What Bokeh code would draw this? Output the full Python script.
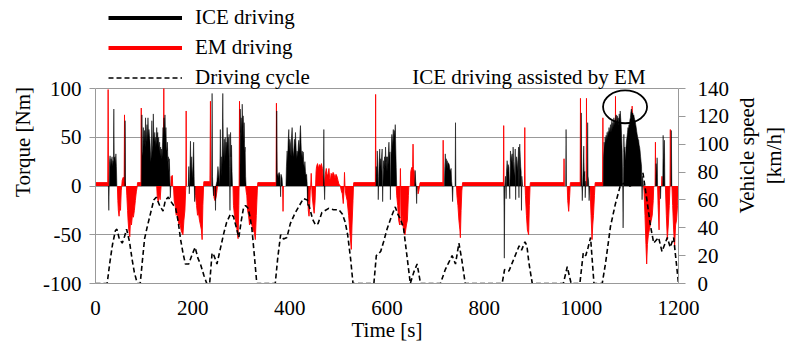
import math
from bokeh.plotting import figure
from bokeh.layouts import row
from bokeh.models import Range1d, LinearAxis, FixedTicker, Legend, LegendItem, Label
from bokeh.core.properties import value
from bokeh.embed import file_html
from bokeh.resources import INLINE

# ---------------- data ----------------
# Driving cycle: (time [s], vehicle speed [km/h])
cycle_points = [
    (0, 0), (24, 0), (29.5, 15), (35, 28), (41, 38), (44, 39), (49, 32), (55, 29), (60, 34), (64, 39),
    (70, 30), (75.5, 17), (80, 8), (86, 0), (92, 0), (97, 18), (101, 32), (106, 40), (113, 50), (120, 60),
    (125, 62), (132, 56), (139, 52), (144, 60), (150, 62), (155, 59), (165, 54), (170, 45), (175, 32),
    (180, 22), (185, 14), (192, 14), (198, 20), (205, 26), (211, 18), (216, 14), (223, 6), (229, 0),
    (235, 0), (240, 22), (244, 20), (250, 14), (257, 25), (264, 36), (270, 44), (278, 50), (284, 48),
    (290, 40), (295, 33), (300, 45), (305, 55), (309, 56), (314, 54), (318, 48), (322, 39), (327, 20),
    (332, 0), (370, 0), (375, 18), (381, 35), (387, 32), (394, 33), (401, 43), (410, 50), (418, 55),
    (428, 61), (436, 60), (441, 54), (447, 46), (453, 42), (458, 43), (466, 51), (480, 54), (490, 53),
    (501, 53), (508, 50), (514, 44), (519, 35), (525, 18), (530, 0), (573, 0), (578, 20), (587, 23),
    (593, 30), (600, 39), (609, 48), (617, 55), (622, 50), (628, 46), (634, 40), (641, 20), (648, 0),
    (655, 8), (662, 14), (669, 0), (710, 0), (720, 10), (727, 15), (734, 20), (741, 14), (748, 29),
    (754, 17), (761, 0), (837, 0), (842, 10), (851, 9), (858, 15), (865, 21), (872, 27), (877, 24),
    (884, 30), (888, 27), (892, 15), (899, 0), (963, 0), (971, 12), (979, 0), (997, 0), (1004, 22),
    (1009, 20), (1014, 26), (1019, 33), (1026, 0), (1043, 0), (1050, 15), (1060, 41), (1070, 57),
    (1080, 70), (1088, 72), (1095, 70), (1101, 70), (1110, 76), (1118, 81), (1124, 81), (1127, 79),
    (1135, 60), (1142, 42), (1149, 29), (1159, 33), (1166, 23), (1177, 33), (1183, 26), (1190, 33),
    (1200, 0),
]

# ICE torque: (time [s], torque [Nm])
ice_points = [
    (0, 0), (26.6, 0), (27.4, -25), (28.2, 0), (29, 25), (30, 31), (31, 19), (32, 28), (33, 22), (34, 30),
    (35, 20), (36, 26), (37, 24), (37.7, 79), (38.5, 28), (40, 30), (41, 22), (42, 33), (43, 20), (44, 0),
    (60.3, 0), (61, 67), (61.7, 0),
    (94.8, 0), (95.5, 73), (96.5, 35), (97.5, 31), (98.5, 60), (99.5, 45), (101, 57), (102, 40), (103, 70),
    (104, 45), (105, 53), (106, 63), (107, 45), (108, 70), (109, 50), (110, 58), (111, 52), (112, 47),
    (113, 36), (114, 25), (115, 36), (116, 67), (117, 42), (118, 35), (119, 74), (120, 50), (121, 45),
    (122, 55), (123, 40), (124, 50), (125, 42), (126, 60), (127, 48), (128, 55), (129, 40), (130, 50),
    (131, 35), (132, 45), (133, 30), (134, 40), (135, 28), (136, 38), (137, 30), (138, 45), (139, 60),
    (140, 50), (141, 70), (142, 55), (143, 73), (144, 50), (145, 60), (146, 40), (147, 36), (148, 45),
    (149, 25), (150, 30), (151, 15), (152, 28), (153, 8), (154, -12), (155, 0),
    (191, 0), (192, 20), (193, -8), (194, 10), (195.5, 46), (196.5, 12), (198, 30), (199, 8), (200.5, 20),
    (202, 45), (203, 10), (204, -16), (205, 0),
    (239.2, 0), (240, 95), (240.8, 10), (241.5, 0), (243, -10), (244, 0), (246.2, 0), (247, -25),
    (247.8, 0), (250, 5), (252, 20), (254, 10), (255, 0), (256, 20), (257, 58), (258, 15), (259, 30),
    (260, 10), (261, 40), (262, 95), (263, 45), (264, 30), (265, 48), (266, 25), (267, 50), (268, 30),
    (269, 45), (270, 35), (271, 60), (272, 40), (273, 50), (274, 30), (275, 53), (276, 20), (276.8, -25),
    (277.5, 20), (278, 55), (279, 30), (280, 42), (281, 15), (282, 0),
    (297.3, 0), (298, 79), (299, 55), (300, 70), (301, 50), (302, 84), (303, 60), (304, 72), (305, 45),
    (306, 65), (307, 35), (308, 40), (309, 10), (310, 0),
    (372.4, 0), (373.1, 77), (374, 10), (376, 13), (377, 8), (378, 14), (380, 10), (381, -11), (382, 12),
    (384, 8), (385, 0),
    (392, 0), (393, 20), (394.4, 36), (395.5, 25), (396.5, 45), (397.9, 58), (399, 35), (400, 48),
    (401.3, 43), (402.5, 30), (403.5, 50), (404.7, 60), (406, 40), (407, 30), (408.2, 36), (409.5, 48),
    (410.5, 40), (411.6, 55), (413, 38), (414, 28), (415, 36), (416.5, 30), (417.5, 42), (418.5, 47),
    (420, 35), (421, 55), (421.9, 62), (423, 45), (424, 30), (425.3, 36), (426.5, 28), (427.5, 35),
    (428.7, 23), (430, 18), (431, 25), (432.2, 15), (433.5, 10), (434.5, 12), (435.6, 3), (436.5, -20),
    (437.5, 0),
    (469.2, 0), (470, 58), (470.8, 0), (471.6, -14), (472.4, 0),
    (577.2, 0), (578, 20), (579, 10), (580, 36), (581, 20), (582, -14), (583, 10), (584, 25), (585, 38),
    (586, 20), (587, 28), (588, 15), (589, 30), (590, 38), (591, -16), (592, 10), (593, 26), (594, 18),
    (595, 30), (596, 20), (597, 40), (598, 25), (599, 30), (600, 15), (601, 30), (602, 20), (603, 35),
    (604, 45), (605, 28), (606, 35), (607, -14), (608, 30), (609, 40), (610, 53), (611, 40), (612, 50),
    (613, 58), (614, 45), (615, 57), (616, 50), (617, 63), (618, 40), (619, 19), (620, 0),
    (657, 0), (658, 16), (659, 5), (660, 0), (661, -18), (662, 0),
    (718, 0), (719, 20), (720, 33), (721, 15), (722, 28), (723, 20), (724, 26), (725, 18), (726, 24),
    (728, 22), (730, 15), (732, 18), (733, 5), (734, 0), (735, -16), (736, 0), (740.2, 0), (741, 65),
    (741.8, 0),
    (840.5, 0), (841.5, -74), (842.5, 0), (844, 10), (845.2, -13), (846, 15), (847.3, 26), (848.5, 15),
    (849.5, 22), (850.7, 19), (851.7, 5), (852.7, -13), (853.5, 15), (854.1, 36), (855.5, 25), (856.5, 30),
    (857.5, 33), (858.5, 20), (859.6, 40), (860.5, 25), (861.5, 15), (862.3, 10), (863.3, 25), (864, 38),
    (864.8, -14), (865.6, 20), (866.6, 30), (867.8, 26), (869, 15), (870, 30), (870.8, 40), (871.6, -12),
    (872.4, 35), (873.3, 43), (874.3, 30), (875.2, 20), (876.1, 15), (876.8, -25), (877.5, 10),
    (878.3, 5), (879, 0),
    (967.8, 0), (968.6, 58), (969.4, 0),
    (999.2, 0), (1000, 75), (1000.8, 5), (1002, -15), (1003, 5), (1004, 20), (1005, 41), (1006, 10),
    (1007, 15), (1008, -12), (1009, 5), (1010, 0), (1012.2, 0), (1013, 65), (1013.8, 10), (1015, 5),
    (1016, -15), (1017, 0),
    (1045.2, 0), (1045.8, 30), (1046.5, 36), (1047, 45), (1048, 38), (1049, 50), (1050, 44), (1051, 52),
    (1052, 46), (1053, 55), (1054, 48), (1055, 56), (1056, 52), (1057, 60), (1058, 55), (1059, 58),
    (1060, 63), (1061, 55), (1062, 62), (1063, 67), (1064, 58), (1065, 65), (1066, 60), (1067, 70),
    (1068, 62), (1069, 68), (1070, 66), (1071, 72), (1072, 73), (1073, 64), (1074, 72), (1075, 67),
    (1076, 70), (1077, 62), (1078, 74), (1079, 68), (1080, 77), (1081, 70), (1082, 63), (1083, 50),
    (1084, 36), (1085, 10), (1086, -43), (1087, 20), (1087.5, 53), (1088.5, 35), (1089.5, 40),
    (1090.9, 26), (1092, 40), (1093, 47), (1094, 50), (1095, 55), (1096, 60), (1097, 58), (1098, 63),
    (1099, 62), (1100, 68), (1101, 70), (1102, 76), (1103, 79), (1104, 76), (1105, 74), (1106, 75),
    (1107, 72), (1108, 73), (1109, 70), (1110, 68), (1111, 66), (1112, 63), (1113, 60), (1114, 56),
    (1115, 53), (1116, 50), (1117, 48), (1118, 47), (1119, 42), (1120, 40), (1121, 36), (1122, 30),
    (1123, 25), (1124, 20), (1125, -14), (1126, 10), (1127, 3), (1128, 0),
    (1153, 0), (1154, 23), (1155, 10), (1156, 29), (1157, 0), (1162.2, 0), (1163, -13), (1163.8, 0),
    (1167.6, 0), (1168.4, 52), (1169.5, 20), (1171, 47), (1172, 0), (1184.5, 0), (1185.3, 57),
    (1186.2, 0), (1200, 0),
]

# EM torque: (time [s], torque [Nm])
em_points = [
    (0, 3.5), (24.5, 3.5), (25.2, 0), (26, 99), (26.8, 0),
    (45, 0), (46, -15), (47, -25), (48.5, -31), (50, -20), (51.5, -25), (53, -5), (54, 0), (55, 6),
    (57, 9), (59, 8), (59.7, 73), (60.4, 5), (62, 0),
    (63.5, 0), (64.5, -10), (66, -25), (67, -35), (68.5, -45), (70.6, -52), (72, -35), (74, -40),
    (76, -30), (78, -32), (80, -25), (82, -15), (84, -6), (86, 0), (86.5, 3.5), (93, 3.5), (93.5, 0),
    (94.2, 80), (94.9, 0),
    (126, 0), (127, -10), (129, -16), (131, -8), (133, -14), (135, 0),
    (139.8, 0), (140.6, 100), (141.4, 0),
    (155, 0), (156, 10), (157, 3), (158, 11), (159, 0),
    (160, 0), (161, -5), (162, -15), (164, -20), (166, -30), (168, -28), (170, -35), (172, -40),
    (174, -38), (176, -45), (178, -48), (180, -50), (182, -35), (184, -25), (185.5, -5), (186, 0),
    (186.6, 77), (187.2, 0),
    (205, 0), (206, -10), (208, -20), (210, -30), (212, -28), (214, -35), (216, -40), (218, -45),
    (219.5, -55), (221, -20), (222.5, 0), (223, 4.5), (235, 4.5), (235.5, 0), (236.6, 87), (237.5, 0),
    (243, 0), (244, -12), (246, -15), (248, -12), (250, -5), (251, 0), (252, 8), (253, 0),
    (283, 0), (284, -20), (286, -30), (288, -35), (290, -40), (292, -48), (293.5, -54), (295, -20),
    (295.6, 0), (296.4, 87), (297.2, 0),
    (309, 0), (310, -5), (311.5, -10), (313, -25), (315, -30), (317, -40), (319, -35), (321, -38),
    (324, -45), (327, -48), (329, -55), (331, -30), (333, -5), (334, 3.5), (371, 3.5), (371.6, 0),
    (372.4, 85), (373.2, 0),
    (385.2, 0), (386, -26), (386.8, 0),
    (436.5, 0), (437, -10), (438, -25), (439.5, -31), (441, -20), (442, -5), (443, 0), (444, 13),
    (445, 0), (446, -10), (448, -20), (450, -28), (452, -15), (453, 0), (454, 15), (455, 20), (457, 23),
    (459, 18), (461, 22), (463, 20), (465, 23), (467, 18), (469, 5), (471, 0), (473, 12), (475, 18),
    (477, 10), (479, 13), (480.5, 18), (482, 8), (483.5, 6), (485, 13), (487, 10), (489, 14), (491, 12),
    (493, 8), (495, 12), (497, 10), (499, 6), (501, 2), (504, 0), (506, -5), (508, -8), (510, -18),
    (511.5, -5), (512.5, 14), (513.5, 0), (515, -8), (518, -15), (521, -30), (524, -50), (526.5, -65),
    (528, -40), (530, -15), (531, 0), (531.5, 3.5), (575.5, 3.5), (576, 0), (576.6, 94), (577.2, 0),
    (619, 0), (620, -10), (622, -20), (624, -35), (626, -40), (627, 0), (627.6, 18), (628.2, 0),
    (629, -40), (631, -30), (634, -45), (637, -50), (640, -40), (642, -35), (644, -10), (645, 0),
    (648, 0), (649, 15), (651, 19), (652.8, 20), (653.6, 43), (654.4, 18), (656, 15), (657, 0),
    (663, 0), (664, -8), (665.5, -5), (667, 0), (668, 3.5), (714.5, 3.5), (715, 0), (715.6, 47),
    (716.2, 0),
    (743, 0), (744, -10), (746, -20), (748, -35), (750, -45), (751, -53), (752.5, -25), (754, -5),
    (755, 0), (755.5, 3.5), (839, 3.5), (839.5, 0), (840.2, 62), (840.9, 0),
    (883, 0), (883.6, 60), (884.3, 0), (885, -10), (887, -30), (889, -45), (891.5, -50), (893, -20),
    (894.5, 0), (895, 3.5), (963.3, 3.5), (963.8, 0), (964.4, 28), (965, 0),
    (971, 0), (972, -15), (974, -26), (976, -10), (977, 0), (977.5, 3.5), (997.2, 3.5), (997.6, 0),
    (998.2, 90), (998.8, 0),
    (1010, 0), (1010.6, 90), (1011.2, 0),
    (1017.5, 0), (1018.5, -10), (1020, -30), (1022, -55), (1023.5, -40), (1025, -30), (1027, -10),
    (1028, 0), (1028.5, 3.5), (1043.3, 3.5), (1043.8, 0), (1044.4, 70), (1045, 0),
    (1069.6, 0), (1070.3, 92), (1071, 0),
    (1103.8, 0), (1104.6, 82), (1105.4, 0),
    (1128, 0), (1129, -5), (1131, -30), (1133, -60), (1134.5, -80), (1136, -60), (1138, -50),
    (1140, -45), (1142, -40), (1144, -35), (1146, -30), (1148, -15), (1149, 0),
    (1151.8, 0), (1152.5, 45), (1153.2, 0),
    (1157, 0), (1158, -20), (1160, -45), (1161, -15), (1162, 0),
    (1165, 0), (1166, 10), (1167, 0),
    (1173, 0), (1175, -30), (1177, -55), (1179, -40), (1181, -20), (1182.5, 0), (1183.2, 58), (1184, 0),
    (1186.5, 0), (1188, -20), (1190, -45), (1192, -62), (1194, -40), (1196, -35), (1198, -20), (1200, 0),
]

time_ticks = [0, 200, 400, 600, 800, 1000, 1200]
torque_ticks = [-100, -50, 0, 50, 100]
speed_ticks = [0, 20, 40, 60, 80, 100, 120, 140]

legend_labels = ["ICE driving", "EM driving", "Driving cycle"]
note_text = "ICE driving assisted by EM"
speed_title = ["Vehicle speed", "[km/h]"]
highlight = dict(t=1090, torque=81.3, width=90.6, height=33.8)

cycle_time = [p[0] for p in cycle_points]
cycle_speed = [p[1] for p in cycle_points]
ice_time = [p[0] for p in ice_points]
ice_torque = [p[1] for p in ice_points]
em_time = [p[0] for p in em_points]
em_torque = [p[1] for p in em_points]


def outline(ts, vs):
    """Edge line of an area, broken where it just runs along zero."""
    xs, ys = [], []
    for i, (t, v) in enumerate(zip(ts, vs)):
        if i > 0 and v == 0 and vs[i - 1] == 0:
            xs.append(float("nan"))
            ys.append(float("nan"))
        xs.append(t)
        ys.append(v)
    return xs, ys


# ---------------- styling / layout ----------------
FONT = "Liberation Serif"
FS = "21px"
GRAY = "#999999"
RED = "#ff0000"

FRAME_H = 197          # pixel height of the -100..100 torque span
TOP_PAD = 89           # pixels above the 100 Nm line (legend / note area)
t_lo, t_hi = torque_ticks[0], torque_ticks[-1]
s_lo, s_hi = speed_ticks[0], speed_ticks[-1]
t_top = t_hi + TOP_PAD * (t_hi - t_lo) / FRAME_H
s_top = s_hi + TOP_PAD * (s_hi - s_lo) / FRAME_H

p = figure(width=735, height=344, x_range=Range1d(time_ticks[0], time_ticks[-1]),
           y_range=Range1d(t_lo, t_top),
           output_backend="svg", toolbar_location=None,
           min_border_left=95, min_border_right=57, min_border_top=0, min_border_bottom=58)
p.extra_y_ranges = {"speed": Range1d(s_lo, s_top)}
p.outline_line_color = None
p.xgrid.visible = False
p.ygrid.grid_line_color = GRAY
p.ygrid.grid_line_width = 1

# torque areas (EM underneath, ICE on top)
em_area = p.varea(x=em_time, y1=[0] * len(em_time), y2=em_torque, fill_color=RED)
ex, ey = outline(em_time, em_torque)
p.line(x=ex, y=ey, line_color=RED, line_width=1, line_alpha=0.9)
ice_area = p.varea(x=ice_time, y1=[0] * len(ice_time), y2=ice_torque, fill_color="black")
ix, iy = outline(ice_time, ice_torque)
p.line(x=ix, y=iy, line_color="black", line_width=1, line_alpha=0.55)

# driving cycle
cyc = p.line(x=cycle_time, y=cycle_speed, y_range_name="speed", line_color="black",
             line_width=1.6, line_dash="5 3")

# highlight ellipse
p.ellipse(x=[highlight["t"]], y=[highlight["torque"]], width=[highlight["width"]],
          height=[highlight["height"]], fill_color=None, line_color="black", line_width=1.8)

# axes
xa = p.xaxis[0]
ya = p.yaxis[0]
xa.ticker = FixedTicker(ticks=time_ticks)
ya.ticker = FixedTicker(ticks=torque_ticks)
ya.bounds = (t_lo, t_hi)
ya.major_label_overrides = {t: str(t) for t in torque_ticks}
xa.axis_label = "Time [s]"
ya.axis_label = "Torque [Nm]"

ra = LinearAxis(y_range_name="speed", ticker=FixedTicker(ticks=speed_ticks), bounds=(s_lo, s_hi))
p.add_layout(ra, "right")

for ax in (xa, ya, ra):
    ax.major_label_text_font = FONT
    ax.major_label_text_font_size = FS
    ax.major_label_text_color = "black"
    ax.axis_label_text_font = FONT
    ax.axis_label_text_font_size = FS
    ax.axis_label_text_font_style = "normal"
    ax.axis_label_text_color = "black"
    ax.axis_line_color = GRAY
    ax.major_tick_line_color = GRAY
    ax.minor_tick_line_color = None
    ax.major_tick_in = 0

xa.major_tick_out = 0
xa.major_label_standoff = 17
xa.axis_label_standoff = 0
ya.major_tick_out = 6
ya.major_label_standoff = 8
ya.axis_label_standoff = 5
ra.major_tick_out = 7
ra.major_label_standoff = 12

# note text just above the frame's 100 Nm line
p.add_layout(Label(x=652, y=t_hi, text=note_text, text_align="left", text_baseline="bottom",
                   text_font=FONT, text_font_size=FS, text_color="black"))

# legend (top-left, above the 100 Nm line); location = bottom-left corner, px from frame bottom-left
nan = float("nan")
ice_leg = p.line(x=ice_time[:2], y=[nan, nan], line_color="black", line_width=4)
em_leg = p.line(x=em_time[:2], y=[nan, nan], line_color=RED, line_width=4)
legend = Legend(items=[LegendItem(label=legend_labels[0], renderers=[ice_leg]),
                       LegendItem(label=legend_labels[1], renderers=[em_leg]),
                       LegendItem(label=legend_labels[2], renderers=[cyc])],
                location=(13, 193), glyph_width=74, glyph_height=25, label_height=25,
                label_standoff=13, spacing=5, padding=0, margin=0,
                label_text_font=FONT, label_text_font_size=FS, label_text_color="black",
                border_line_color=None, background_fill_alpha=0)
p.add_layout(legend, "center")

# right-hand axis title, reading bottom-to-top
side = figure(width=58, height=344, x_range=Range1d(0, 58), y_range=Range1d(0, 344),
              output_backend="svg", toolbar_location=None, x_axis_type=None, y_axis_type=None,
              min_border_left=0, min_border_right=0, min_border_top=0, min_border_bottom=0)
side.outline_line_color = None
side.grid.visible = False
side.text(x=[11, 38.3], y=[155.5, 155.5], text=speed_title, angle=math.pi / 2,
          text_align="center", text_baseline="middle", text_font=value(FONT),
          text_font_size=value(FS), text_color="black")

layout = row(p, side)
open("out.html", "w").write(file_html(layout, INLINE))
